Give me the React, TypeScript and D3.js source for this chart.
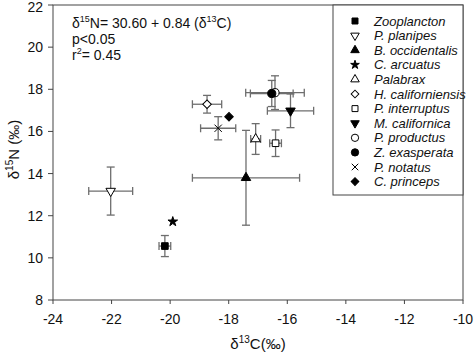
import React from 'react';
import * as d3 from 'd3';

const species = [
  'Zooplancton', 'P. planipes', 'B. occidentalis', 'C. arcuatus', 'Palabrax',
  'H. californiensis', 'P. interruptus', 'M. californica', 'P. productus',
  'Z. exasperata', 'P. notatus', 'C. princeps',
];
const carbon = [-20.18, -22.03, -17.41, -19.91, -17.08, -18.74, -16.4, -15.89, -16.42, -16.53, -18.36, -17.99];
const nitrogen = [10.56, 13.17, 13.8, 11.72, 15.64, 17.29, 15.44, 16.98, 17.84, 17.8, 16.15, 16.7];
const carbonSd = [0.2, 0.75, 1.83, 0, 0.17, 0.5, 0.2, 0.79, 1.0, 0.73, 0.6, 0];
const nitrogenSd = [0.5, 1.14, 2.25, 0, 0.73, 0.42, 0.63, 0.8, 0.8, 0.62, 0.55, 0];
const shapes = ['square', 'triDown', 'triUp', 'star', 'triUp', 'diamond', 'square', 'triDown', 'circle', 'circle', 'times', 'diamond'];
const filled = [true, false, true, true, false, false, false, true, false, true, false, true];

const xTicks = [-24, -22, -20, -18, -16, -14, -12, -10];
const yTicks = [8, 10, 12, 14, 16, 18, 20, 22];

const W = 474;
const H = 354;
const m = { left: 53, right: 11, top: 5, bottom: 54 };
const font = '"Liberation Sans", Arial, sans-serif';
const errColor = '#6e6e6e';

const x = d3.scaleLinear().domain([-24, -10]).range([m.left, W - m.right]);
const y = d3.scaleLinear().domain([8, 22]).range([H - m.bottom, m.top]);

// area factors so the shapes look about the same size
const sizeFactor: Record<string, number> = {
  square: 0.85, triUp: 0.75, triDown: 0.75, star: 0.55, diamond: 0.7, circle: 1, times: 0.7,
};

function symbolPath(shape: string, size: number) {
  const s = size * sizeFactor[shape];
  switch (shape) {
    case 'square': return { d: d3.symbol(d3.symbolSquare, s)()!, rot: 0 };
    case 'triUp': return { d: d3.symbol(d3.symbolTriangle, s)()!, rot: 0 };
    case 'triDown': return { d: d3.symbol(d3.symbolTriangle, s)()!, rot: 180 };
    case 'star': return { d: d3.symbol(d3.symbolStar, s)()!, rot: 0 };
    case 'diamond': return { d: d3.symbol(d3.symbolSquare, s)()!, rot: 45 };
    case 'circle': return { d: d3.symbol(d3.symbolCircle, s)()!, rot: 0 };
    default: return { d: d3.symbol(d3.symbolTimes, s)()!, rot: 0 };
  }
}

function Marker({ i, cx, cy, size }: { i: number; cx: number; cy: number; size: number }) {
  const s = symbolPath(shapes[i], size);
  const times = shapes[i] === 'times';
  return (
    <path
      d={s.d}
      transform={`translate(${cx},${cy}) rotate(${s.rot})`}
      fill={times ? 'none' : filled[i] ? '#000' : '#fff'}
      stroke="#000"
      strokeWidth={1}
    />
  );
}

export default function App() {
  const cap = 4;
  const legendX = 333;
  const legendTop = 5;
  const legendBottom = 195;
  const rowH = 14.6;

  return (
    <svg width={W} height={H} style={{ position: 'absolute', left: 0, top: 0, background: '#fff' }} fontFamily={font}>
      <rect x={0} y={0} width={W} height={H} fill="#fff" />
      {/* frame */}
      <rect x={m.left} y={m.top} width={W - m.left - m.right} height={H - m.top - m.bottom} fill="none" stroke="#444" strokeWidth={1} />

      {/* ticks and tick labels */}
      {xTicks.map((t) => (
        <g key={`x${t}`}>
          <line x1={x(t)} x2={x(t)} y1={y(8)} y2={y(8) + 4} stroke="#444" />
          <text x={x(t)} y={y(8) + 24} textAnchor="middle" fontSize={14} fill="#111">{t}</text>
        </g>
      ))}
      {yTicks.map((t) => (
        <g key={`y${t}`}>
          <line x1={m.left - 5} x2={m.left} y1={y(t)} y2={y(t)} stroke="#444" />
          <text x={m.left - 10} y={Math.max(y(t) + 5, 12)} textAnchor="end" fontSize={14} fill="#111">{t}</text>
        </g>
      ))}

      {/* axis titles */}
      <text x={(x(-24) + x(-10)) / 2} y={H - 5} textAnchor="middle" fontSize={15} fill="#111">
        δ<tspan fontSize={10} dy={-6}>13</tspan><tspan dy={6}>C(‰)</tspan>
      </text>
      <text transform={`translate(19,${y(15) - 3}) rotate(-90)`} textAnchor="middle" fontSize={15} fill="#111">
        δ<tspan fontSize={10} dy={-6}>15</tspan><tspan dy={6}>N (‰)</tspan>
      </text>

      {/* regression annotation */}
      <text x={72} y={28} fontSize={14} fill="#111">
        δ<tspan fontSize={9} dy={-6}>15</tspan><tspan dy={6}>N= 30.60 + 0.84 (δ</tspan><tspan fontSize={9} dy={-6}>13</tspan><tspan dy={6}>C)</tspan>
      </text>
      <text x={72} y={44} fontSize={14} fill="#111">p&lt;0.05</text>
      <text x={72} y={60} fontSize={14} fill="#111">
        r<tspan fontSize={9} dy={-6}>2</tspan><tspan dy={6}>= 0.45</tspan>
      </text>

      {/* error bars */}
      {species.map((s, i) => {
        if (carbonSd[i] === 0 && nitrogenSd[i] === 0) return null;
        const cx = x(carbon[i]);
        const cy = y(nitrogen[i]);
        const x0 = x(carbon[i] - carbonSd[i]);
        const x1 = x(carbon[i] + carbonSd[i]);
        const y0 = y(nitrogen[i] + nitrogenSd[i]);
        const y1 = y(nitrogen[i] - nitrogenSd[i]);
        return (
          <g key={`e${s}`} stroke={errColor} strokeWidth={1.3} fill="none">
            <line x1={x0} x2={x1} y1={cy} y2={cy} />
            <line x1={x0} x2={x0} y1={cy - cap} y2={cy + cap} />
            <line x1={x1} x2={x1} y1={cy - cap} y2={cy + cap} />
            <line x1={cx} x2={cx} y1={y0} y2={y1} />
            <line x1={cx - cap} x2={cx + cap} y1={y0} y2={y0} />
            <line x1={cx - cap} x2={cx + cap} y1={y1} y2={y1} />
          </g>
        );
      })}

      {/* markers */}
      {species.map((s, i) => (
        <Marker key={`m${s}`} i={i} cx={x(carbon[i])} cy={y(nitrogen[i])} size={52} />
      ))}

      {/* legend */}
      <rect x={legendX} y={legendTop} width={W - m.right - legendX} height={legendBottom - legendTop} fill="#fff" stroke="#444" />
      {species.map((s, i) => {
        const ly = legendTop + 16 + i * rowH;
        return (
          <g key={`l${s}`}>
            <Marker i={i} cx={355} cy={ly} size={42} />
            <text x={374} y={ly + 4.5} fontSize={13} fontStyle="italic" fill="#111">{s}</text>
          </g>
        );
      })}
    </svg>
  );
}
